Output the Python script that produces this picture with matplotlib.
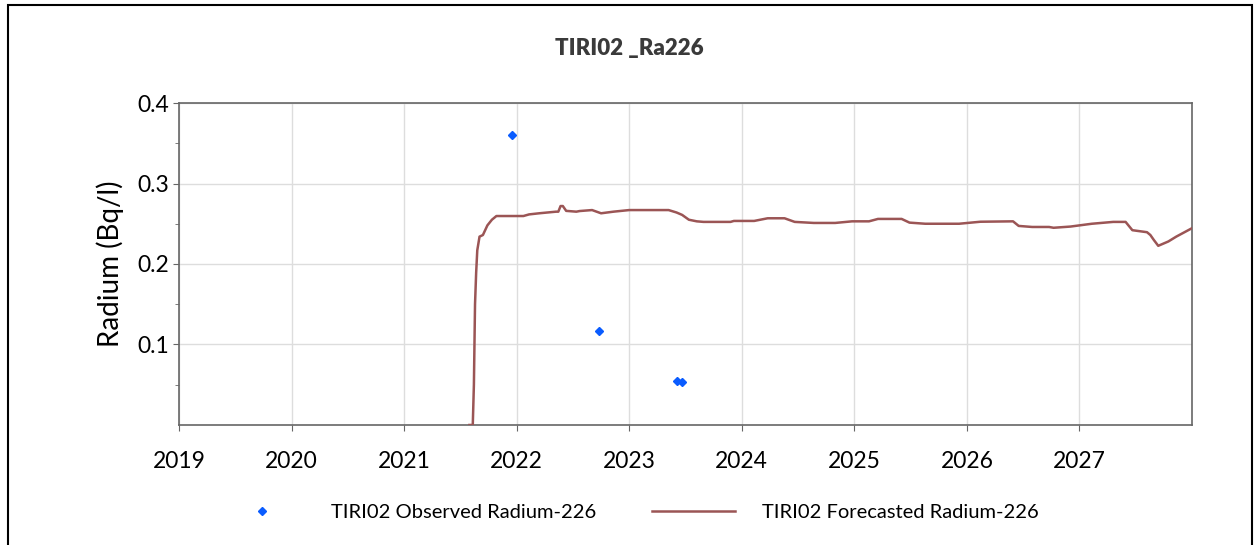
import numpy as np
import matplotlib
matplotlib.use("Agg")
import matplotlib.pyplot as plt
from matplotlib.patches import Rectangle

plt.rcParams['font.family'] = ['Lato', 'DejaVu Sans']

# observed samples (decimal year, Bq/l)
obs_year = [2021.96, 2022.73, 2023.42, 2023.47]
obs_val = [0.360, 0.117, 0.055, 0.053]

# forecast curve
fc_year = [2021.58, 2021.61, 2021.62, 2021.63, 2021.64, 2021.65, 2021.67, 2021.70,
           2021.72, 2021.74, 2021.78, 2021.82, 2022.06, 2022.11, 2022.20, 2022.35,
           2022.37, 2022.39, 2022.41, 2022.44, 2022.53, 2022.56, 2022.67, 2022.71,
           2022.75, 2022.86, 2023.00, 2023.18, 2023.35, 2023.42, 2023.47, 2023.53,
           2023.60, 2023.66, 2023.90, 2023.93, 2024.11, 2024.23, 2024.38, 2024.47,
           2024.64, 2024.83, 2024.98, 2025.13, 2025.21, 2025.42, 2025.49, 2025.63,
           2025.93, 2026.12, 2026.41, 2026.46, 2026.58, 2026.73, 2026.77, 2026.92,
           2027.11, 2027.30, 2027.41, 2027.47, 2027.60, 2027.63, 2027.66, 2027.70,
           2027.79, 2027.86, 2028.0]
fc_val = [0.0, 0.0, 0.05, 0.15, 0.189, 0.217, 0.234, 0.236,
          0.242, 0.248, 0.255, 0.2596, 0.2596, 0.2616, 0.263, 0.265,
          0.265, 0.272, 0.272, 0.266, 0.265, 0.2658, 0.267, 0.265,
          0.263, 0.265, 0.267, 0.267, 0.267, 0.264, 0.261, 0.255,
          0.253, 0.2523, 0.2523, 0.2535, 0.2535, 0.2568, 0.2568, 0.2523,
          0.251, 0.251, 0.253, 0.253, 0.256, 0.256, 0.2514, 0.250,
          0.250, 0.2525, 0.253, 0.2473, 0.246, 0.246, 0.245, 0.2465,
          0.250, 0.2523, 0.2523, 0.242, 0.2395, 0.236, 0.230, 0.2226,
          0.228, 0.234, 0.2445]

years = list(range(2019, 2028))

fig = plt.figure(figsize=(12.57, 5.45), dpi=100)
ax = fig.add_axes([0.1424, 0.2202, 0.8059, 0.5908])

ax.plot(fc_year, fc_val, color='#9b5555', lw=1.8, label='TIRI02 Forecasted Radium-226', zorder=3)
ax.plot(obs_year, obs_val, ls='none', marker='D', ms=4.5, color='#0a5cff',
        label='TIRI02 Observed Radium-226', zorder=4)

ax.set_xlim(2019, 2028)
ax.set_ylim(0, 0.4)
ax.set_xticks(years)
ax.set_xticklabels([str(y) for y in years])
ax.set_yticks([0.1, 0.2, 0.3, 0.4])
ax.set_yticklabels(['0.1', '0.2', '0.3', '0.4'])
ax.set_yticks([0.05, 0.15, 0.25, 0.35], minor=True)
ax.grid(True, which='major', color='#dddddd', lw=1)
ax.set_axisbelow(True)
for s in ax.spines.values():
    s.set_color('#666666')
    s.set_linewidth(1.2)
ax.tick_params(axis='x', which='major', length=4, color='#666666', labelsize=16.5, pad=15)
ax.tick_params(axis='y', which='major', length=4, color='#666666', labelsize=16.5, pad=3)
ax.tick_params(axis='y', which='minor', length=3, color='#666666')
ax.set_ylabel('Radium (Bq/l)', fontsize=20, labelpad=10)

fig.text(0.501, 0.911, 'TIRI02 _Ra226', ha='center', va='center', fontsize=16, fontweight='heavy',
         color='#3a3a3a')

h, l = ax.get_legend_handles_labels()
fig.legend(h[::-1], l[::-1], loc='center', bbox_to_anchor=(0.501, 0.059), ncol=2, frameon=False,
           fontsize=14.5, handlelength=4.1, handletextpad=1.35, columnspacing=2.8)

# outer frame of the chart
fig.patches.append(Rectangle((8 / 1257, -0.05), (1252 - 8) / 1257, 1.05 - 5 / 545,
                             transform=fig.transFigure, fill=False, ec='black', lw=1.5))

fig.savefig('out.png', dpi=100)
